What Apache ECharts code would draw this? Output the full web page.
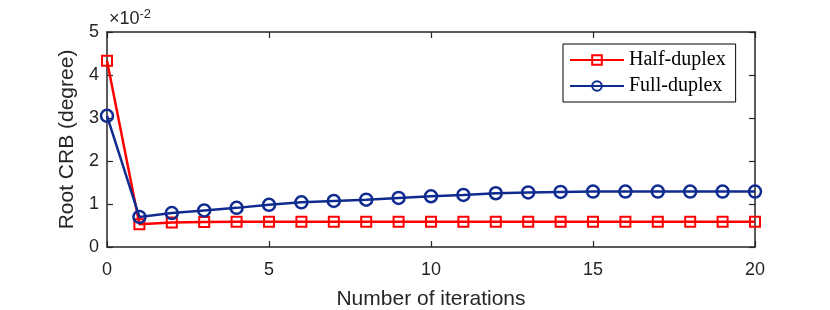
<!DOCTYPE html>
<html><head><meta charset="utf-8">
<script src="https://cdn.jsdelivr.net/npm/echarts@6/dist/echarts.min.js"></script>
<style>html,body{margin:0;padding:0;background:#fff}#c{width:830px;height:310px}</style>
</head><body><div id="c"></div>
<script>
const iterations = [0,1,2,3,4,5,6,7,8,9,10,11,12,13,14,15,16,17,18,19,20];
const halfDuplex = [4.33,0.53,0.57,0.58,0.59,0.59,0.59,0.59,0.59,0.59,0.59,0.59,0.59,0.59,0.59,0.59,0.59,0.59,0.59,0.59,0.59];
const fullDuplex = [3.05,0.70,0.79,0.85,0.91,0.98,1.04,1.07,1.10,1.14,1.18,1.21,1.25,1.27,1.28,1.29,1.29,1.29,1.29,1.29,1.29];

const axisColor = '#262626';
const sansFont = '"Liberation Sans", Arial, sans-serif';
const chart = echarts.init(document.getElementById('c'));
const tick = {show:true, inside:true, length:6, lineStyle:{color:axisColor, width:1.2}};
const line = {show:true, onZero:false, lineStyle:{color:axisColor, width:1.5}};
const baseX = {type:'value', min:0, max:20, interval:5, axisLine:line, axisTick:tick, splitLine:{show:false}};
const baseY = {type:'value', min:0, max:5, interval:1, axisLine:line, axisTick:tick, splitLine:{show:false}};
chart.setOption({
  animation:false,
  grid:{left:107, right:75, top:32, bottom:63, containLabel:false, outerBoundsMode:'none'},
  xAxis:[
    Object.assign({}, baseX, {position:'bottom', name:'Number of iterations', nameLocation:'middle', nameGap:42,
      nameTextStyle:{fontFamily:sansFont, fontSize:21, color:axisColor},
      axisLabel:{show:true, margin:14, fontFamily:sansFont, fontSize:18, color:axisColor}}),
    Object.assign({}, baseX, {position:'top', axisLabel:{show:false}})
  ],
  yAxis:[
    Object.assign({}, baseY, {position:'left', name:'Root CRB (degree)', nameLocation:'middle', nameGap:26,
      nameTextStyle:{fontFamily:sansFont, fontSize:21, color:axisColor},
      axisLabel:{show:true, margin:8, fontFamily:sansFont, fontSize:18, color:axisColor}}),
    Object.assign({}, baseY, {position:'right', axisLabel:{show:false}})
  ],
  legend:{
    left:563, top:44, orient:'vertical', itemGap:6,
    backgroundColor:'#fff', borderColor:'#000', borderWidth:1, padding:[6,10,6,6],
    itemWidth:54, itemHeight:12,
    textStyle:{fontFamily:'"Liberation Serif", "DejaVu Serif", serif', fontSize:20, color:'#000'},
    data:['Half-duplex','Full-duplex']
  },
  graphic:[{
    type:'text', left:109, top:8,
    style:{rich:{a:{fontFamily:sansFont, fontSize:18, fill:axisColor}, b:{fontFamily:sansFont, fontSize:13, fill:axisColor, verticalAlign:'top', padding:[0,0,10,0]}},
      text:'{a|×10}{b|-2}'}
  }],
  series:[
    {name:'Half-duplex', type:'line', data:iterations.map((x,i)=>[x,halfDuplex[i]]),
      symbol:'rect', symbolSize:10, lineStyle:{color:'#ff0000', width:2.5},
      itemStyle:{color:'rgba(255,255,255,0)', borderColor:'#ff0000', borderWidth:2}, z:3},
    {name:'Full-duplex', type:'line', data:iterations.map((x,i)=>[x,fullDuplex[i]]),
      symbol:'circle', symbolSize:12, lineStyle:{color:'#0f2b8f', width:2.5},
      itemStyle:{color:'rgba(255,255,255,0)', borderColor:'#0f2b8f', borderWidth:2.5}, z:4}
  ]
});
</script></body></html>
